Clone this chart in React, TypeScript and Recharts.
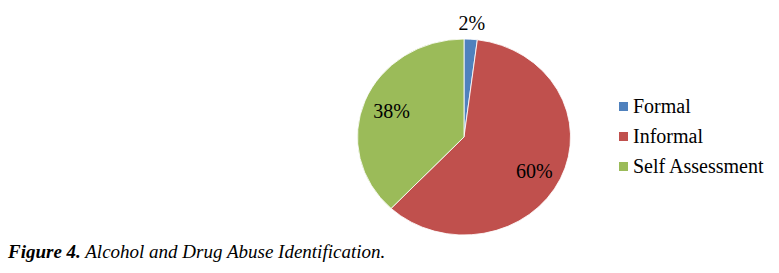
import { PieChart, Pie, Cell, Legend } from "recharts";

const categories = ["Formal", "Informal", "Self Assessment"];
const shares = [2, 60, 38];
const COLORS = ["#4F81BD", "#C0504D", "#9BBB59"];

const data = categories.map((name, i) => ({ name, value: shares[i] }));

const SERIF = "Liberation Serif, Tinos, DejaVu Serif, serif";
const CX = 464;
const CY = 137;
const STRETCH = 1.087;
const RAD = Math.PI / 180;

function renderLabel(props: any) {
  const { cx, cy, midAngle, outerRadius, percent } = props;
  const r = percent < 0.05 ? outerRadius + 16 : outerRadius * 0.73;
  const x = cx + r * Math.cos(-midAngle * RAD) * STRETCH;
  const y = cy + r * Math.sin(-midAngle * RAD) + (percent > 0.5 ? 4 : 0);
  return (
    <text
      x={x}
      y={y}
      fill="#000"
      style={{ fontFamily: SERIF }}
      fontSize={20}
      textAnchor="middle"
      dominantBaseline="central"
    >
      {`${Math.round(percent * 100)}%`}
    </text>
  );
}

function LegendContent({ payload }: any) {
  return (
    <div style={{ fontFamily: SERIF, fontSize: 20, color: "#000" }}>
      {(payload || []).map((p: any) => (
        <div key={p.value} style={{ display: "flex", alignItems: "center", height: 30 }}>
          <span style={{ width: 9, height: 9, background: p.color, marginRight: 5, display: "inline-block" }} />
          <span>{p.value}</span>
        </div>
      ))}
    </div>
  );
}

export default function App() {
  return (
    <div style={{ position: "fixed", left: 0, top: 0, width: 779, height: 273, background: "#fff", fontFamily: SERIF }}>
      <style>{`.recharts-sector{transform-origin:${CX}px ${CY}px;transform:scaleX(${STRETCH})}`}</style>
      <PieChart width={779} height={273} margin={{ top: 0, right: 0, bottom: 0, left: 0 }}>
        <Pie
          data={data}
          dataKey="value"
          nameKey="name"
          cx={CX}
          cy={CY}
          outerRadius={98}
          startAngle={90}
          endAngle={-270}
          stroke="#fff"
          strokeWidth={0.8}
          label={renderLabel}
          labelLine={false}
          isAnimationActive={false}
        >
          {data.map((_, i) => (
            <Cell key={i} fill={COLORS[i]} />
          ))}
        </Pie>
        <Legend
          layout="vertical"
          content={<LegendContent />}
          wrapperStyle={{ position: "absolute", left: 619, top: 91, width: 160 }}
        />
      </PieChart>
      <div
        style={{
          position: "absolute",
          left: 8,
          top: 241,
          fontFamily: SERIF,
          fontStyle: "italic",
          fontSize: 19,
          color: "#000",
          whiteSpace: "nowrap",
        }}
      >
        <b>Figure 4.</b> Alcohol and Drug Abuse Identification.
      </div>
    </div>
  );
}
